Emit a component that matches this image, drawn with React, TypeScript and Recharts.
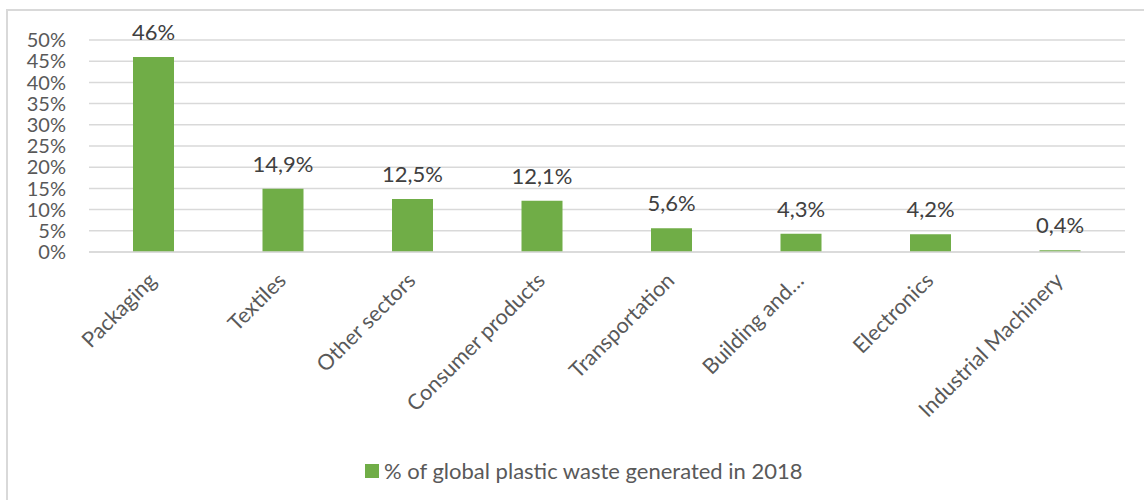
import React from "react";
import {
  Bar,
  BarChart,
  CartesianGrid,
  LabelList,
  Legend,
  XAxis,
  YAxis,
} from "recharts";

const sectors = [
  "Packaging",
  "Textiles",
  "Other sectors",
  "Consumer products",
  "Transportation",
  "Building and…",
  "Electronics",
  "Industrial Machinery",
];

const wasteShare = [46, 14.9, 12.5, 12.1, 5.6, 4.3, 4.2, 0.4];

const yTicks = [0, 5, 10, 15, 20, 25, 30, 35, 40, 45, 50];

const seriesName = "% of global plastic waste generated in 2018";

const FONT = "Lato, Carlito, Calibri, 'Open Sans', sans-serif";
const GREEN = "#70AD47";
const GRID = "#D9D9D9";

const data = sectors.map((name, i) => ({ name, share: wasteShare[i] }));

function fmtPct(v: number) {
  return `${String(v).replace(".", ",")}%`;
}

function SectorTick({ x, y, payload }: any) {
  return (
    <g transform={`translate(${x + 4},${y + 30})`}>
      <text
        x={0}
        y={0}
        textAnchor="end"
        transform="rotate(-45)"
        fill="#595959"
        fontSize={21.5}
        fontFamily={FONT}
      >
        {payload.value}
      </text>
    </g>
  );
}

function LegendBox() {
  return (
    <div
      style={{
        height: 48,
        paddingLeft: 365,
        paddingTop: 8,
        boxSizing: "border-box",
        display: "flex",
        alignItems: "flex-start",
      }}
    >
      <div style={{ display: "flex", alignItems: "center", height: 22 }}>
        <span
          style={{
            width: 14,
            height: 14,
            background: GREEN,
            display: "inline-block",
            marginRight: 5,
          }}
        />
        <span
          style={{
            fontFamily: FONT,
            fontSize: 22,
            color: "#595959",
            lineHeight: "22px",
          }}
        >
          {seriesName}
        </span>
      </div>
    </div>
  );
}

export default function App() {
  return (
    <div
      style={{
        position: "absolute",
        left: 0,
        top: 0,
        width: 1144,
        height: 500,
        background: "#fff",
        overflow: "hidden",
      }}
    >
      <div
        style={{
          position: "absolute",
          left: 6,
          top: 9,
          width: 1200,
          height: 600,
          borderLeft: `2px solid ${GRID}`,
          borderTop: `2px solid ${GRID}`,
        }}
      />
      <div style={{ position: "absolute", left: 0, top: 0 }}>
        <BarChart
          width={1144}
          height={500}
          data={data}
          margin={{ top: 40, right: 19, bottom: 0, left: 0 }}
        >
          <CartesianGrid vertical={false} stroke={GRID} strokeWidth={1.5} />
          <XAxis
            dataKey="name"
            interval={0}
            height={200}
            tickSize={0}
            tickMargin={0}
            tickLine={false}
            axisLine={{ stroke: GRID, strokeWidth: 1.5 }}
            tick={<SectorTick />}
          />
          <YAxis
            width={89}
            domain={[0, 50]}
            ticks={yTicks}
            interval={0}
            tickSize={0}
            tickMargin={23}
            axisLine={false}
            tickLine={false}
            tickFormatter={(v) => `${v}%`}
            tick={{ fill: "#595959", fontSize: 20, fontFamily: FONT }}
          />
          <Legend
            verticalAlign="bottom"
            content={<LegendBox />}
            wrapperStyle={{ left: 0, width: 1144, bottom: 0, height: 48 }}
          />
          <Bar
            dataKey="share"
            name={seriesName}
            fill={GREEN}
            barSize={41}
            isAnimationActive={false}
          >
            <LabelList
              dataKey="share"
              position="top"
              offset={17}
              formatter={(v: any) => fmtPct(v)}
              fill="#404040"
              fontSize={22}
              fontFamily={FONT}
            />
          </Bar>
        </BarChart>
      </div>
    </div>
  );
}
